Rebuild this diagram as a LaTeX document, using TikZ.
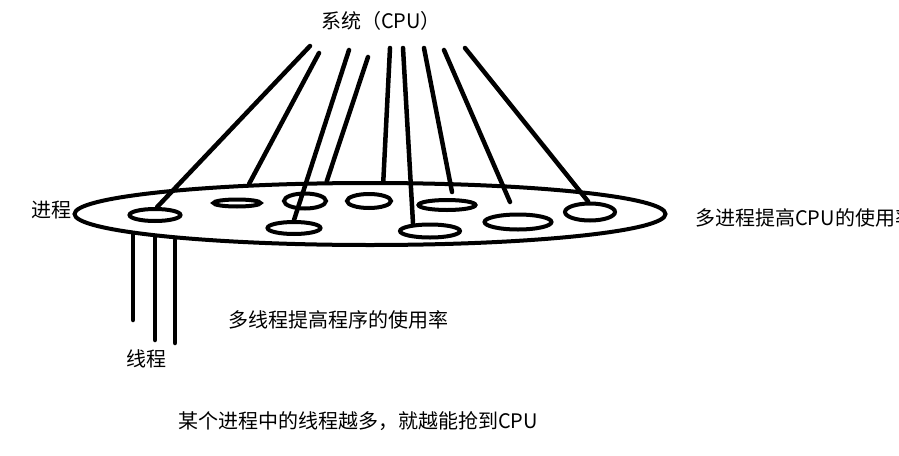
\documentclass[tikz,border=0pt]{standalone}
\usepackage{fontspec}
\setmainfont{Noto Sans CJK SC}
\usetikzlibrary{shapes.geometric}
\begin{document}
\begin{tikzpicture}[x=1pt,y=-1pt,
  ell/.style={draw, ellipse, line width=4pt, inner sep=0pt},
  wire/.style={line width=4.5pt, line cap=round},
  lbl/.style={font=\fontsize{20}{20}\selectfont, inner sep=0pt}]
\useasboundingbox (0,0) rectangle (899,455);
% process (big ellipse)
\node[ell, minimum width=591pt, minimum height=62pt] (proc) at (370,214) {};
% small ellipses
\node[ell, minimum width=51pt, minimum height=12pt] (e1) at (155,215) {};
\node[ell, minimum width=47pt, minimum height=7pt]  (e2) at (237,203) {};
\node[ell, minimum width=42pt, minimum height=15pt] (e3) at (305,201) {};
\node[ell, minimum width=53pt, minimum height=12pt] (e4) at (294,228) {};
\node[ell, minimum width=44pt, minimum height=14pt] (e5) at (369,201) {};
\node[ell, minimum width=57pt, minimum height=10pt] (e6) at (447,205) {};
\node[ell, minimum width=60pt, minimum height=13pt] (e7) at (430,231) {};
\node[ell, minimum width=67pt, minimum height=15pt] (e8) at (518,222) {};
\node[ell, minimum width=50pt, minimum height=17pt] (e9) at (590,212) {};
% top free ends
\coordinate (t1) at (310,46);
\coordinate (t2) at (319,53);
\coordinate (t3) at (349,50);
\coordinate (t4) at (368,57);
\coordinate (t5) at (390,48);
\coordinate (t6) at (403,48);
\coordinate (t7) at (424,48);
\coordinate (t8) at (444,50);
\coordinate (t9) at (465,48);
\coordinate (b7) at (452,192);
\coordinate (b8) at (510,202);
% CPU lines
\draw[wire] (t1) -- (e1.75);
\draw[wire] (t2) -- (proc.166);
\draw[wire] (t3) -- (e4.north);
\draw[wire] (t4) -- (proc.143);
\draw[wire] (t5) -- (proc.68);
\draw[wire] (t6) -- (e7.157);
\draw[wire] (t7) -- (b7);
\draw[wire] (t8) -- (b8);
\draw[wire] (t9) -- (e9.100);
% threads
\coordinate (h1) at (133,234);
\coordinate (h1e) at (133,320);
\coordinate (h2) at (155,237);
\coordinate (h2e) at (155,340);
\coordinate (h3) at (175,240);
\coordinate (h3e) at (175,343);
\draw[wire] (h1) -- (h1e);
\draw[wire] (h2) -- (h2e);
\draw[wire] (h3) -- (h3e);
% labels
\node[lbl] (cpu) at (381,21) {系统（CPU）};
\node[lbl, anchor=east] (proclbl) at (72,210) {进程};
\node[lbl] (thrlbl) at (146,359) {线程};
\node[lbl, anchor=west] (multiproc) at (695,218) {多进程提高CPU的使用率};
\node[lbl, anchor=west] (multithr) at (228,320) {多线程提高程序的使用率};
\node[lbl, anchor=west] (note) at (178,421) {某个进程中的线程越多，就越能抢到CPU};
\end{tikzpicture}
\end{document}
